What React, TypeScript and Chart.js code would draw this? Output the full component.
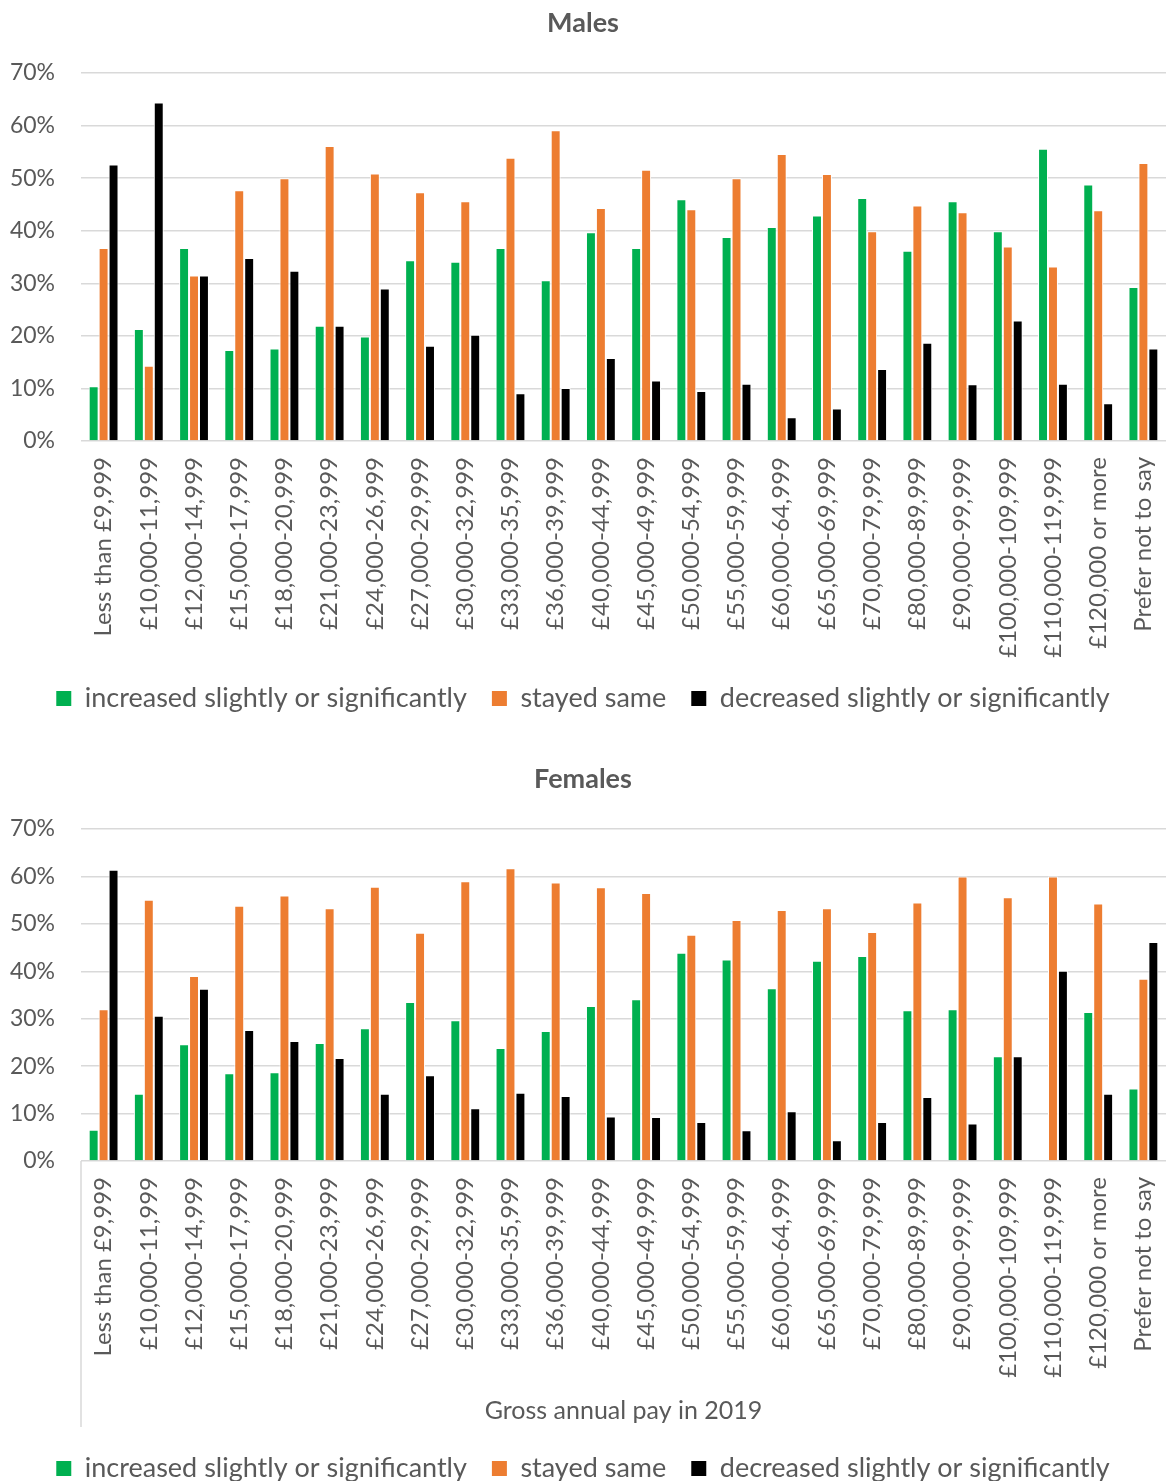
import React, { useEffect, useRef } from 'react';
import { Chart, registerables } from 'chart.js';

Chart.register(...registerables);

// Pay bands shared by both panels
const payBands = [
  'Less than £9,999',
  '£10,000-11,999',
  '£12,000-14,999',
  '£15,000-17,999',
  '£18,000-20,999',
  '£21,000-23,999',
  '£24,000-26,999',
  '£27,000-29,999',
  '£30,000-32,999',
  '£33,000-35,999',
  '£36,000-39,999',
  '£40,000-44,999',
  '£45,000-49,999',
  '£50,000-54,999',
  '£55,000-59,999',
  '£60,000-64,999',
  '£65,000-69,999',
  '£70,000-79,999',
  '£80,000-89,999',
  '£90,000-99,999',
  '£100,000-109,999',
  '£110,000-119,999',
  '£120,000 or more',
  'Prefer not to say',
];

const seriesNames = [
  'increased slightly or significantly',
  'stayed same',
  'decreased slightly or significantly',
];

// Males (%)
const malesIncreased = [10.4, 21.3, 36.7, 17.3, 17.6, 21.9, 19.9, 34.4, 34.1, 36.7, 30.6, 39.7, 36.7, 46.0, 38.8, 40.7, 42.9, 46.2, 36.2, 45.6, 39.9, 55.6, 48.8, 29.3];
const malesSame = [36.7, 14.3, 31.5, 47.7, 50.0, 56.1, 50.9, 47.3, 45.6, 53.9, 59.1, 44.3, 51.6, 44.1, 50.0, 54.6, 50.8, 39.9, 44.8, 43.5, 37.0, 33.2, 43.9, 52.9];
const malesDecreased = [52.6, 64.4, 31.5, 34.8, 32.4, 21.9, 29.0, 18.1, 20.2, 9.1, 10.1, 15.8, 11.5, 9.5, 10.9, 4.5, 6.2, 13.7, 18.7, 10.8, 22.9, 10.9, 7.2, 17.6];

// Females (%)
const femalesIncreased = [6.6, 14.2, 24.6, 18.5, 18.7, 24.9, 28.0, 33.5, 29.7, 23.8, 27.4, 32.7, 34.1, 43.9, 42.5, 36.4, 42.2, 43.2, 31.8, 32.0, 22.1, 0, 31.4, 15.3];
const femalesSame = [32.0, 55.1, 39.0, 53.8, 56.0, 53.3, 57.8, 48.1, 59.0, 61.7, 58.7, 57.7, 56.5, 47.7, 50.8, 52.9, 53.3, 48.3, 54.5, 60.0, 55.6, 60.0, 54.3, 38.4];
const femalesDecreased = [61.4, 30.6, 36.3, 27.6, 25.3, 21.7, 14.2, 18.1, 11.1, 14.4, 13.7, 9.4, 9.3, 8.2, 6.5, 10.5, 4.4, 8.2, 13.5, 7.9, 22.1, 40.1, 14.2, 46.2];

const percentTicks = { min: 0, max: 70, step: 10 };

const FONT = 'Lato, "Open Sans", sans-serif';
const TEXT = '#595959';
const GRID = '#d9d9d9';
const COLORS = ['#00b050', '#ed7d31', '#000000'];

// Short vertical rule continuing the value axis below the plot area
const axisStub = {
  id: 'axisStub',
  afterDraw(chart: any, _args: any, opts: any) {
    if (!opts || !opts.length) return;
    const { ctx, chartArea } = chart;
    ctx.save();
    ctx.strokeStyle = GRID;
    ctx.lineWidth = 1.5;
    ctx.beginPath();
    ctx.moveTo(chartArea.left, chartArea.bottom);
    ctx.lineTo(chartArea.left, chartArea.bottom + opts.length);
    ctx.stroke();
    ctx.restore();
  },
};

// Legend swatches drawn as solid squares (no white outline)
const solidSwatches = (chart: any) =>
  Chart.defaults.plugins.legend.labels.generateLabels(chart).map((item: any) => ({
    ...item,
    lineWidth: 0,
    strokeStyle: 'rgba(0,0,0,0)',
  }));

type PanelProps = {
  title: string;
  inc: number[];
  same: number[];
  dec: number[];
  xHeight: number;
  padBottom: number;
  axisTitle?: string;
  stub?: number;
  height: number;
};

function Panel(props: PanelProps) {
  const ref = useRef<HTMLCanvasElement | null>(null);

  useEffect(() => {
    if (!ref.current) return;
    const values = [props.inc, props.same, props.dec];
    const chart = new Chart(ref.current, {
      type: 'bar',
      data: {
        labels: payBands,
        datasets: values.map((data, i) => ({
          label: seriesNames[i],
          data,
          backgroundColor: COLORS[i],
          borderColor: '#ffffff',
          borderWidth: 1,
          barPercentage: 1,
          categoryPercentage: 0.66,
        })),
      },
      options: {
        responsive: false,
        animation: false,
        devicePixelRatio: 1,
        layout: { padding: { top: 0, left: 0, right: 0, bottom: props.padBottom } },
        plugins: {
          title: {
            display: true,
            text: props.title,
            color: TEXT,
            font: { family: FONT, size: 27, weight: 'bold' },
            padding: { top: 6.8, bottom: 33.8 },
          },
          legend: {
            position: 'bottom',
            labels: {
              boxWidth: 15,
              boxHeight: 15,
              padding: 25,
              color: TEXT,
              font: { family: FONT, size: 27 },
              generateLabels: solidSwatches,
            },
          },
          tooltip: { enabled: false },
          axisStub: { length: props.stub || 0 },
        } as any,
        scales: {
          x: {
            grid: { display: false, drawTicks: false },
            border: { display: false },
            ticks: {
              autoSkip: false,
              maxRotation: 90,
              minRotation: 90,
              padding: 16,
              color: TEXT,
              font: { family: FONT, size: 24 },
            },
            title: {
              display: !!props.axisTitle,
              text: props.axisTitle || '',
              color: TEXT,
              font: { family: FONT, size: 25 },
              padding: { top: 4, bottom: 4 },
            },
            afterFit: (s: any) => {
              s.height = props.xHeight;
              s.paddingLeft = 0;
              s.paddingRight = 0;
            },
          },
          y: {
            min: percentTicks.min,
            max: percentTicks.max,
            ticks: {
              stepSize: percentTicks.step,
              callback: (v: any) => v + '%',
              padding: 26,
              color: TEXT,
              font: { family: FONT, size: 23 },
            },
            grid: { color: GRID, lineWidth: 1.5, drawTicks: false },
            border: { display: false },
            afterFit: (s: any) => {
              s.width = 81;
            },
          },
        },
      },
      plugins: [axisStub],
    });
    return () => chart.destroy();
  }, []);

  return <canvas ref={ref} width={1166} height={props.height} style={{ display: 'block' }} />;
}

export default function App() {
  return (
    <div
      style={{
        position: 'absolute',
        left: 0,
        top: 0,
        width: 1166,
        height: 1481,
        overflow: 'hidden',
        background: '#ffffff',
      }}
    >
      <div style={{ position: 'absolute', left: 0, top: 0 }}>
        <Panel
          title="Males"
          inc={malesIncreased}
          same={malesSame}
          dec={malesDecreased}
          xHeight={219}
          padBottom={34}
          height={756}
        />
      </div>
      <div style={{ position: 'absolute', left: 0, top: 756 }}>
        <Panel
          title="Females"
          inc={femalesIncreased}
          same={femalesSame}
          dec={femalesDecreased}
          xHeight={269}
          padBottom={24}
          axisTitle="Gross annual pay in 2019"
          stub={266}
          height={760}
        />
      </div>
    </div>
  );
}
